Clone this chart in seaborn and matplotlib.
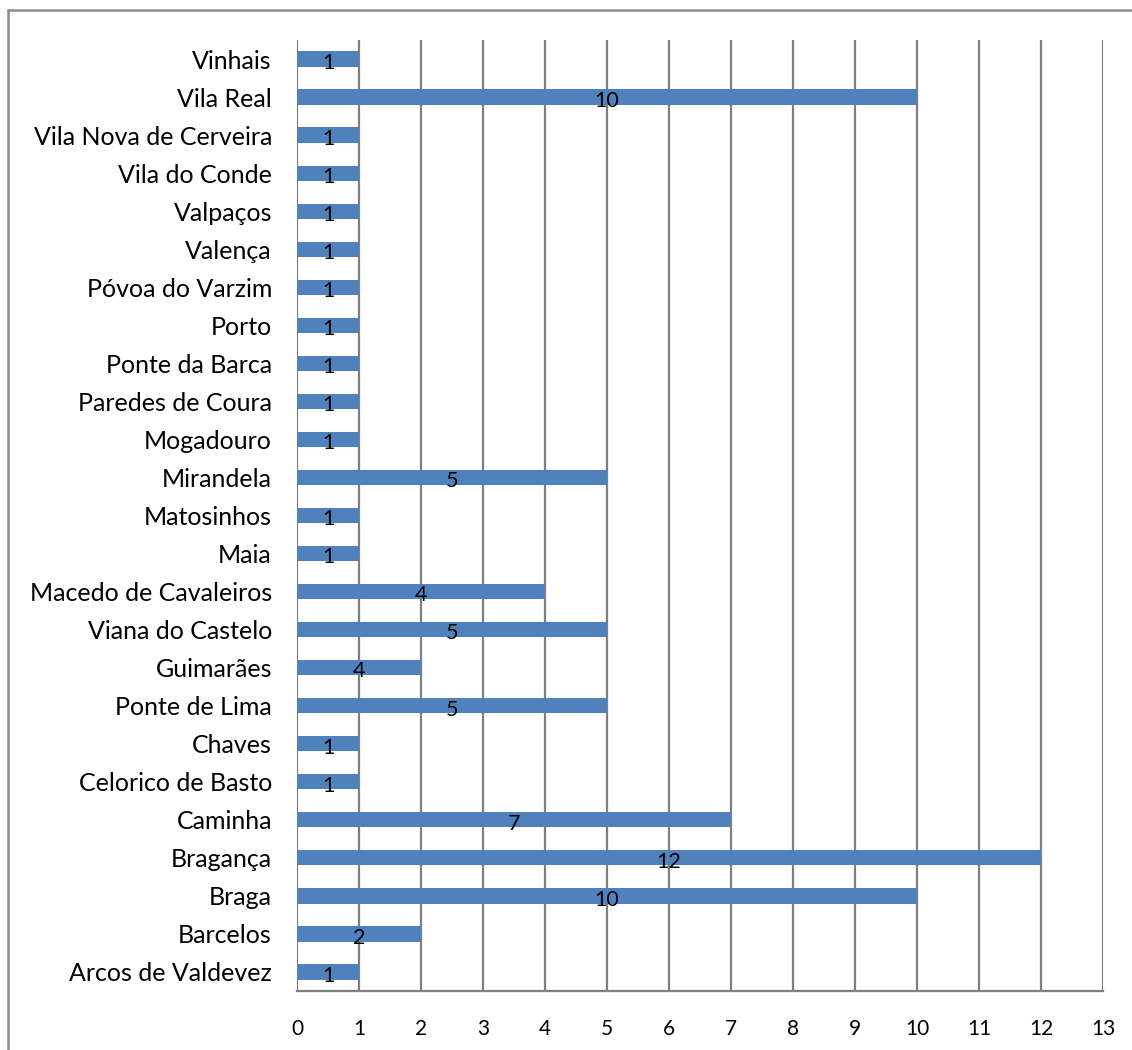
import matplotlib
matplotlib.use("Agg")
import matplotlib.pyplot as plt
import seaborn as sns
import pandas as pd
from matplotlib.lines import Line2D

# Municipalities, listed bottom to top
municipios = [
    "Arcos de Valdevez", "Barcelos", "Braga", "Bragança", "Caminha",
    "Celorico de Basto", "Chaves", "Ponte de Lima", "Guimarães",
    "Viana do Castelo", "Macedo de Cavaleiros", "Maia", "Matosinhos",
    "Mirandela", "Mogadouro", "Paredes de Coura", "Ponte da Barca",
    "Porto", "Póvoa do Varzim", "Valença", "Valpaços", "Vila do Conde",
    "Vila Nova de Cerveira", "Vila Real", "Vinhais",
]
valores = [1, 2, 10, 12, 7, 1, 1, 5, 2, 5, 4, 1, 1, 5, 1, 1, 1, 1, 1, 1, 1, 1, 1, 10, 1]
rotulos = ["1", "2", "10", "12", "7", "1", "1", "5", "4", "5", "4", "1", "1",
           "5", "1", "1", "1", "1", "1", "1", "1", "1", "1", "10", "1"]
x_ticks = list(range(0, 14))

# top-to-bottom order for the categorical y axis
df = pd.DataFrame({"municipio": municipios[::-1], "valor": valores[::-1],
                   "rotulo": rotulos[::-1]})

sns.set_theme(style="white")
plt.rcParams["font.family"] = ["Lato", "DejaVu Sans"]

fig = plt.figure(figsize=(11.32, 10.5), dpi=100)
ax = fig.add_axes([297 / 1132, 1 - 991 / 1050, (1103 - 297) / 1132, (991 - 40) / 1050])

sns.barplot(data=df, x="valor", y="municipio", orient="h", color="#4F81BD",
            saturation=1, width=0.4, linewidth=0, ax=ax, zorder=3)

ax.set_xlim(0, 13)
ax.set_xticks(x_ticks)
ax.set_xticklabels([str(t) for t in x_ticks], fontsize=15, color="black")
ax.tick_params(axis="x", length=0, pad=20)
ax.tick_params(axis="y", length=0, pad=18, labelsize=18, labelcolor="black")
ax.set_xlabel("")
ax.set_ylabel("")

ax.grid(axis="x", color="#7F7F7F", linewidth=1.6, zorder=1)
ax.set_axisbelow(True)
for side in ["top", "right", "left"]:
    ax.spines[side].set_visible(False)
ax.spines["bottom"].set_color("#7F7F7F")
ax.spines["bottom"].set_linewidth(1.6)

for i, (v, lab) in enumerate(zip(df["valor"], df["rotulo"])):
    ax.text(v / 2, i + 0.1, lab, ha="center", va="center", fontsize=15.5,
            color="black", zorder=4)

# outer chart-area frame
fig.add_artist(Line2D([8 / 1132, 8 / 1132], [0, 1 - 10 / 1050],
                      transform=fig.transFigure, color="#8C8C8C", linewidth=1.8))
fig.add_artist(Line2D([8 / 1132, 1], [1 - 10 / 1050, 1 - 10 / 1050],
                      transform=fig.transFigure, color="#8C8C8C", linewidth=1.8))

fig.savefig("out.png", dpi=100, facecolor="white")
